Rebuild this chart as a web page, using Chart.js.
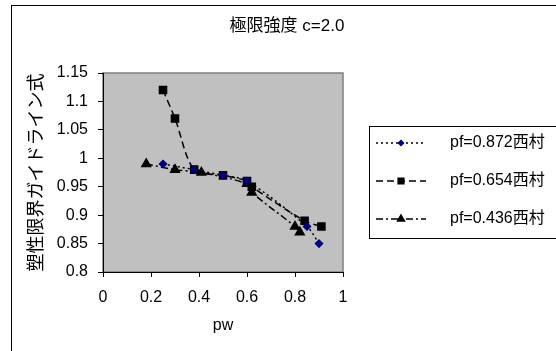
<!DOCTYPE html>
<html>
<head>
<meta charset="utf-8">
<script src="https://cdn.jsdelivr.net/npm/chart.js@4"></script>
<style>
  body { margin: 0; background: #fff; }
  #wrap { width: 556px; height: 351px; position: relative; }
</style>
</head>
<body>
<div id="wrap"><canvas id="myChart" width="556" height="351"></canvas></div>
<script>
// data
const seriesNames = ['pf=0.872西村', 'pf=0.654西村', 'pf=0.436西村'];
const pw872 = [0.25, 0.38, 0.50, 0.60, 0.85, 0.90];
const gl872 = [0.99, 0.98, 0.97, 0.96, 0.88, 0.85];
const pw654 = [0.25, 0.30, 0.38, 0.50, 0.60, 0.62, 0.84, 0.91];
const gl654 = [1.12, 1.07, 0.98, 0.97, 0.96, 0.95, 0.89, 0.88];
const pw436 = [0.18, 0.30, 0.41, 0.60, 0.62, 0.80, 0.82];
const gl436 = [0.99, 0.98, 0.975, 0.955, 0.94, 0.88, 0.87];
const xTicks = [0, 0.2, 0.4, 0.6, 0.8, 1];
const yTicks = [0.8, 0.85, 0.9, 0.95, 1, 1.05, 1.1, 1.15];

const font = "'Liberation Sans', Arial, 'Noto Sans CJK JP', sans-serif";

function pts(xs, ys) {
    let out = [];
    for (let i = 0; i < xs.length; i++) out.push({x: xs[i], y: ys[i]});
    return out;
}

const extras = {
    id: 'extras',
    beforeDraw(chart) {
        const c = chart.ctx, a = chart.chartArea;
        c.save();
        c.fillStyle = '#c0c0c0';
        c.fillRect(a.left, a.top, a.right - a.left, a.bottom - a.top);
        c.strokeStyle = '#808080';
        c.lineWidth = 1.5;
        c.strokeRect(a.left, a.top, a.right - a.left, a.bottom - a.top);
        c.restore();
    },
    afterDraw(chart) {
        const c = chart.ctx;
        c.save();
        // outer frame
        c.strokeStyle = '#000';
        c.lineWidth = 1;
        c.strokeRect(11.5, 5.5, 600, 400);
        // title
        c.fillStyle = '#000';
        c.font = "17px " + font;
        c.textAlign = 'center';
        c.textBaseline = 'middle';
        c.fillText('極限強度 c=2.0', 287, 26);
        // legend
        c.strokeStyle = '#000';
        c.lineWidth = 1;
        c.strokeRect(369.5, 126.5, 300, 112);
        const rows = [143, 181, 219];
        chart.data.datasets.forEach((ds, i) => {
            const y = rows[i];
            c.beginPath();
            c.setLineDash(ds.borderDash);
            c.lineWidth = ds.borderWidth;
            c.strokeStyle = ds.borderColor;
            c.moveTo(376, y);
            c.lineTo(426, y);
            c.stroke();
            c.setLineDash([]);
            c.fillStyle = ds.pointBackgroundColor;
            c.strokeStyle = ds.pointBorderColor;
            Chart.helpers.drawPoint(c, {
                pointStyle: ds.pointStyle, radius: ds.pointRadius - 1, borderWidth: 1
            }, 401, y);
            c.fillStyle = '#000';
            c.font = "16px " + font;
            c.textAlign = 'left';
            c.fillText(seriesNames[i], 450, y);
        });
        c.restore();
    }
};

const ctx = document.getElementById('myChart').getContext('2d');
const myChart = new Chart(ctx, {
    type: 'scatter',
    data: {
        datasets: [{
            label: seriesNames[0],
            data: pts(pw872, gl872),
            showLine: true,
            tension: 0.3,
            borderColor: '#000',
            borderWidth: 1.5,
            borderDash: [2, 3],
            pointStyle: 'rectRot',
            pointRadius: 3.5,
            pointBackgroundColor: '#000080',
            pointBorderColor: '#000080'
        }, {
            label: seriesNames[1],
            data: pts(pw654, gl654),
            showLine: true,
            tension: 0.3,
            borderColor: '#000',
            borderWidth: 1.5,
            borderDash: [7, 4],
            pointStyle: 'rect',
            pointRadius: 5,
            pointBackgroundColor: '#000',
            pointBorderColor: '#000'
        }, {
            label: seriesNames[2],
            data: pts(pw436, gl436),
            showLine: true,
            tension: 0.3,
            borderColor: '#000',
            borderWidth: 1.5,
            borderDash: [7, 3, 2, 3],
            pointStyle: 'triangle',
            pointRadius: 5,
            pointBackgroundColor: '#000',
            pointBorderColor: '#000'
        }]
    },
    options: {
        responsive: false,
        animation: false,
        layout: { padding: { left: 0, right: 213, top: 73, bottom: 0 } },
        plugins: {
            legend: { display: false },
            title: { display: false },
            tooltip: { enabled: false }
        },
        scales: {
            x: {
                type: 'linear',
                min: 0,
                max: 1,
                afterBuildTicks: s => { s.ticks = xTicks.map(v => ({value: v})); },
                afterFit: s => { s.height = 79; },
                border: { color: '#000', width: 1 },
                grid: { drawOnChartArea: false, drawTicks: true, tickLength: 5, color: '#000' },
                ticks: {
                    color: '#000', padding: 11, maxRotation: 0,
                    font: { family: font, size: 16 },
                    callback: v => String(v)
                },
                title: {
                    display: true, text: 'pw', color: '#000',
                    font: { family: font, size: 16, lineHeight: 1.2 },
                    padding: { top: 0, bottom: 16 }
                }
            },
            y: {
                type: 'linear',
                min: 0.8,
                max: 1.15,
                afterBuildTicks: s => { s.ticks = yTicks.map(v => ({value: v})); },
                afterFit: s => { s.width = 103; },
                border: { color: '#000', width: 1 },
                grid: { drawOnChartArea: false, drawTicks: true, tickLength: 5, color: '#000' },
                ticks: {
                    color: '#000', padding: 10,
                    font: { family: font, size: 16 },
                    callback: v => String(v)
                },
                title: {
                    display: true, text: '塑性限界ガイドライン式', color: '#000',
                    font: { family: font, size: 18, lineHeight: 1.2 },
                    padding: { top: 26, bottom: 0 }
                }
            }
        }
    },
    plugins: [extras]
});
</script>
</body>
</html>
